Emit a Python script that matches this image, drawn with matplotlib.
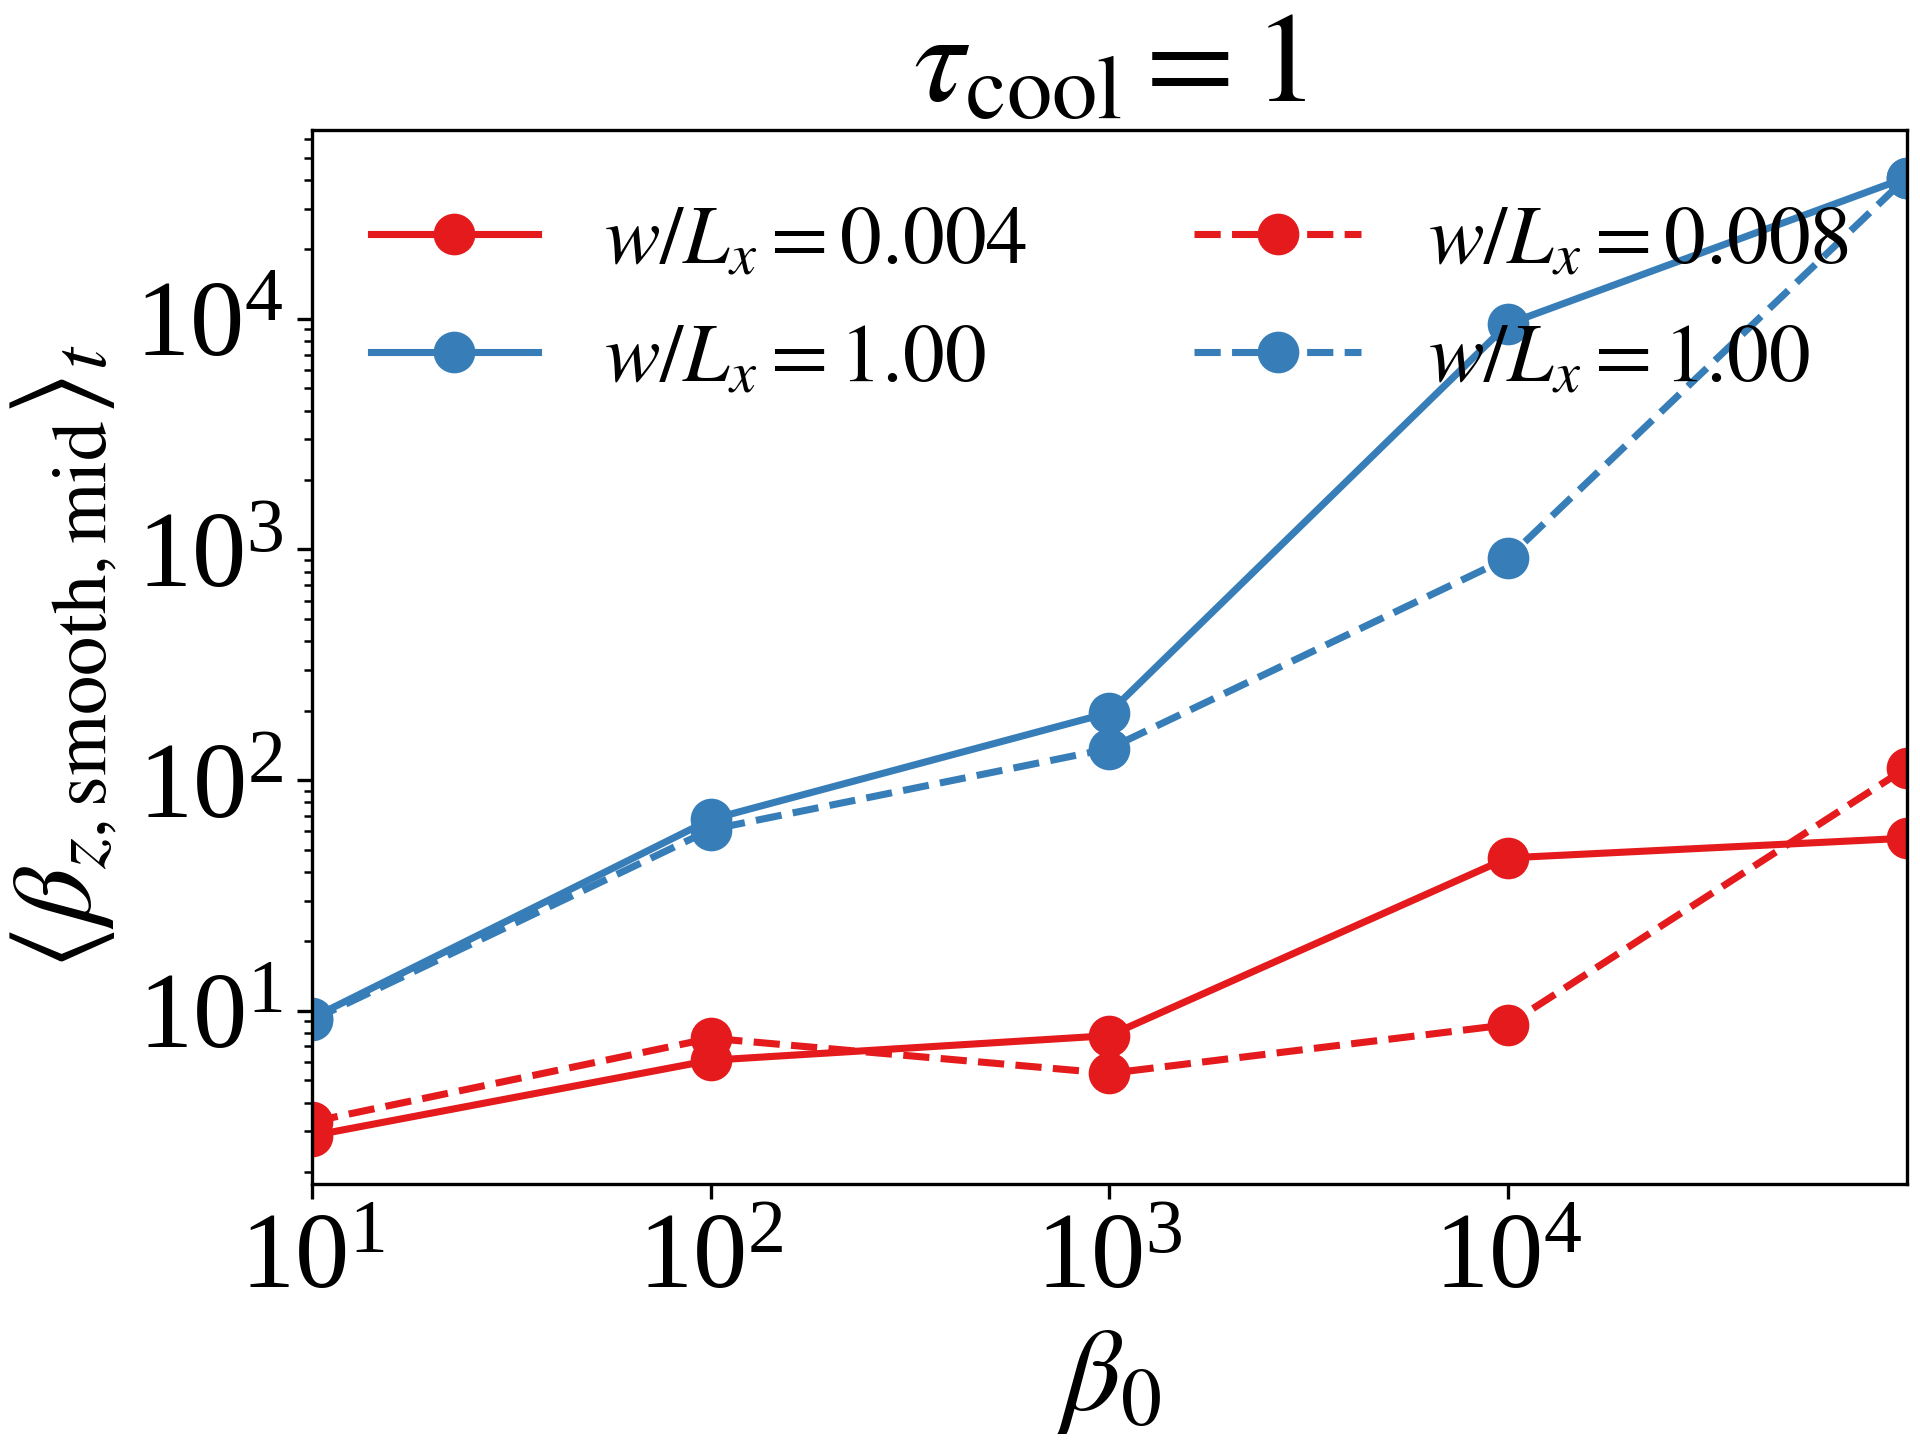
import numpy as np
import matplotlib
matplotlib.use('Agg')
from matplotlib import pyplot as plt

#-----------------------------------------------------------------------------
# Data
#-----------------------------------------------------------------------------

beta0 = [1e1, 1e2, 1e3, 1e4, 1e5]

# w/L_x = 0.004 (solid) and its w/L_x = 1.00 companion
beta_mid_w0004 = [2.87, 6.1, 7.8, 46.0, 56.0]
beta_mid_w100_a = [9.3, 67.5, 196.0, 9500.0, 41000.0]

# w/L_x = 0.008 (dashed) and its w/L_x = 1.00 companion
beta_mid_w0008 = [3.3, 7.6, 5.35, 8.7, 113.0]
beta_mid_w100_b = [9.1, 61.0, 137.0, 918.0, 41000.0]

labels = [r'$w/L_x = 0.004$', r'$w/L_x = 1.00$',
          r'$w/L_x = 0.008$', r'$w/L_x = 1.00$']

red = '#e41a1c'
blue = '#377eb8'

#-----------------------------------------------------------------------------
# Plot
#-----------------------------------------------------------------------------

plt.rcParams['font.family'] = 'serif'
plt.rcParams['font.serif'] = ['Liberation Serif', 'DejaVu Serif']
plt.rcParams['mathtext.fontset'] = 'stix'

fig = plt.figure(figsize=(6.4, 4.8), dpi=300)
ax = fig.add_axes([0.1625, 0.178, 0.8305, 0.732])

kw = dict(marker='o', markersize=9, linewidth=1.7)
ax.plot(beta0, beta_mid_w0004, color=red, ls='-', label=labels[0], **kw)
ax.plot(beta0, beta_mid_w100_a, color=blue, ls='-', label=labels[1], **kw)
ax.plot(beta0, beta_mid_w0008, color=red, ls='--', label=labels[2], **kw)
ax.plot(beta0, beta_mid_w100_b, color=blue, ls='--', label=labels[3], **kw)

ax.set_xscale('log')
ax.set_yscale('log')
ax.set_xlim(1e1, 1e5)
ax.set_xticks([1e1, 1e2, 1e3, 1e4])
ax.tick_params(axis='both', which='major', labelsize=26)

ax.set_xlabel(r'$\beta_0$', fontsize=28)
ax.set_ylabel(r'$\left\langle \beta_{z,\mathrm{smooth,mid}} \right\rangle_t$',
              fontsize=27, labelpad=4)
ax.set_title(r'$\tau_{\rm cool} = 1$', fontsize=31)

ax.legend(loc='upper left', bbox_to_anchor=(-0.01, 1.0), ncol=2,
          frameon=False, fontsize=20)

fig.savefig('out.png', dpi=300)
